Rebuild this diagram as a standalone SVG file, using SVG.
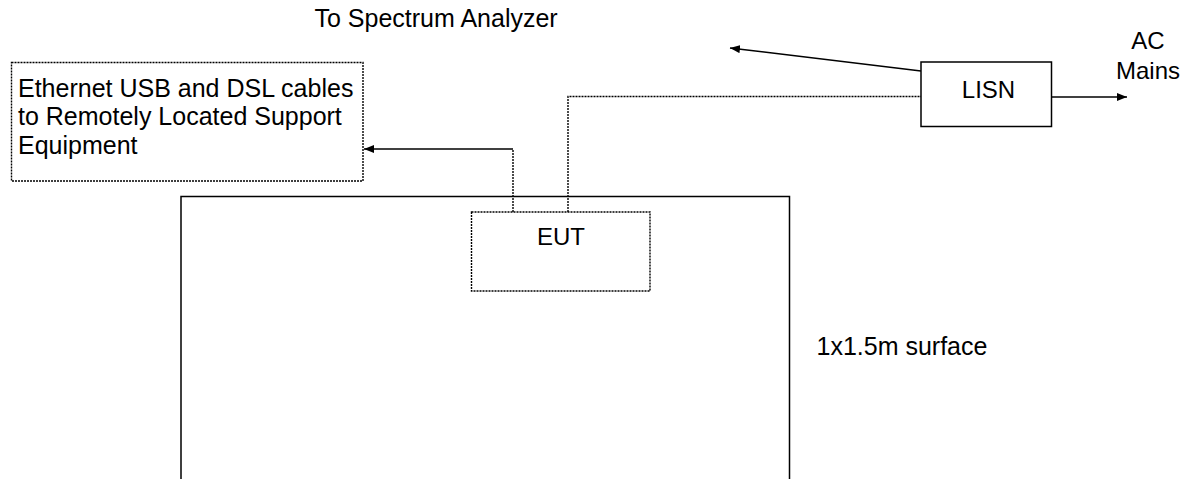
<svg xmlns="http://www.w3.org/2000/svg" width="1194" height="479" viewBox="0 0 1194 479">
<style>
text{font-family:"Liberation Sans",Arial,sans-serif;fill:#000}
.t25{font-size:25px}
.t24{font-size:24px}
.dot{fill:none;stroke:#000;stroke-width:1.4;stroke-dasharray:2 1}
.sol{fill:none;stroke:#000;stroke-width:1.5}
.box{fill:#fff;stroke:#000;stroke-width:1.5}
</style>
<defs>
<marker id="ah" viewBox="0 0 10 8" refX="10" refY="4" markerWidth="10" markerHeight="8" markerUnits="userSpaceOnUse" orient="auto">
<path d="M0,0 L10,4 L0,8 z" fill="#000"/>
</marker>
</defs>
<rect width="1194" height="479" fill="#fff"/>
<g id="surface">
<path class="sol" d="M181,480 V196.5 H789.5 V480"/>
</g>
<g id="connectors">
<path class="dot" d="M513,212 V149"/>
<path class="sol" d="M513,149 H364" marker-end="url(#ah)"/>
<path class="dot" d="M568,212 V96.5 H921"/>
<path class="sol" d="M1052,97 H1127" marker-end="url(#ah)"/>
<path class="sol" d="M921,71 L730,48" marker-end="url(#ah)"/>
</g>
<g id="remote">
<rect class="dot" x="11.5" y="62.5" width="351.5" height="118.5"/>
<text class="t25" x="18" y="96.5">Ethernet USB and DSL cables</text>
<text class="t25" x="18" y="125">to Remotely Located Support</text>
<text class="t25" x="18" y="153.5">Equipment</text>
</g>
<g id="eut">
<rect class="dot" x="471.5" y="212" width="178.5" height="79" fill="#fff"/>
<text class="t24" x="561" y="245" text-anchor="middle">EUT</text>
</g>
<g id="lisn">
<rect class="box" x="921" y="62" width="130.5" height="64.5"/>
<text class="t24" x="988.5" y="98" text-anchor="middle">LISN</text>
</g>
<g id="labels">
<text class="t25" x="314.5" y="27">To Spectrum Analyzer</text>
<text class="t24" x="1148" y="48.5" text-anchor="middle">AC</text>
<text class="t24" x="1148" y="78.5" text-anchor="middle">Mains</text>
<text class="t25" x="816.5" y="355">1x1.5m surface</text>
</g>
</svg>
